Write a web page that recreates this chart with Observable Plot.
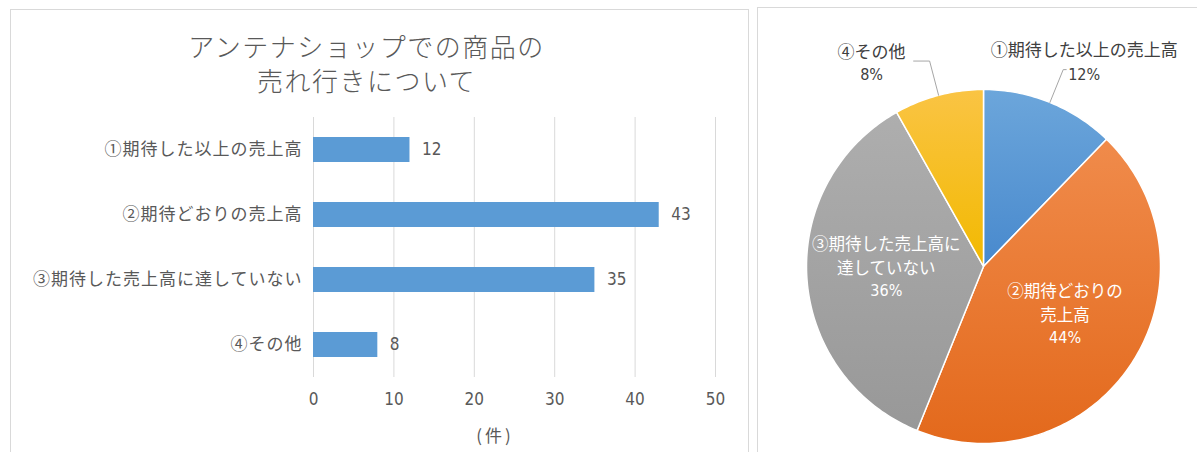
<!DOCTYPE html>
<html><head><meta charset="utf-8">
<script src="https://cdn.jsdelivr.net/npm/d3@7"></script>
<script src="https://cdn.jsdelivr.net/npm/@observablehq/plot@0.6"></script>
<style>
html,body{margin:0;padding:0;background:#fff;}
body{width:1197px;height:452px;overflow:hidden;position:relative;font-family:"Noto Sans CJK JP",sans-serif;}
.panel{position:absolute;border:1px solid #d9d9d9;box-sizing:border-box;}
#left{left:10px;top:9px;width:739px;height:470px;}
#right{left:757px;top:7px;width:460px;height:470px;}
.tline{position:absolute;left:-3px;width:739px;text-align:center;font-size:26px;line-height:30px;height:30px;color:#595959;font-weight:300;letter-spacing:1.5px;}
#bar{position:absolute;left:0;top:0;}
#pie{position:absolute;left:750px;top:0;}
#xlabel{position:absolute;left:445px;width:100px;top:422px;text-align:center;font-size:17px;color:#595959;letter-spacing:3px;}
g[aria-label="cjk"] text, g[aria-label="y-axis tick label"] text{letter-spacing:1px;}
</style></head><body>
<div class="panel" id="left"></div>
<div class="panel" id="right"></div>
<div id="titlebox"></div>
<div id="bar"></div>
<div id="pie"></div>
<div id="xlabel"></div>
<script>
const titleLines = ["アンテナショップでの商品の", "売れ行きについて"];
const categories = ["①期待した以上の売上高", "②期待どおりの売上高", "③期待した売上高に達していない", "④その他"];
const counts = [12, 43, 35, 8];
const xTicks = [0, 10, 20, 30, 40, 50];
const axisLabel = "(件)";
const pieLabels = ["①期待した以上の売上高", "②期待どおりの\n売上高", "③期待した売上高に\n達していない", "④その他"];
const sliceTop = ["#6CA6DB", "#F08B4B", "#AEAEAE", "#FAC444"];
const sliceBottom = ["#4889CD", "#E3691C", "#989898", "#F2B900"];

const titleBox = document.getElementById("titlebox");
titleLines.forEach((t, i) => {
  const d = document.createElement("div");
  d.className = "tline";
  d.style.top = (31 + i * 34) + "px";
  d.textContent = t;
  titleBox.append(d);
});
document.getElementById("xlabel").textContent = axisLabel;

const numFont = "'Liberation Sans Narrow','DejaVu Sans Condensed',sans-serif";
const cjkFont = "'Noto Sans CJK JP',sans-serif";

// ---- bar chart ----
const barData = categories.map((c, i) => ({category: c, count: counts[i]}));
const bar = Plot.plot({
  width: 750, height: 452,
  marginLeft: 313, marginRight: 35, marginTop: 117, marginBottom: 75,
  style: {background: "transparent", fontFamily: cjkFont, color: "#595959"},
  x: {domain: [0, 50], ticks: xTicks},
  y: {domain: categories, paddingInner: 0.62, paddingOuter: 0.31},
  marks: [
    Plot.gridX(xTicks, {stroke: "#d9d9d9", strokeOpacity: 1, strokeWidth: 1}),
    Plot.barX(barData, {x: "count", y: "category", fill: "#5B9BD5"}),
    Plot.text(barData, {x: "count", y: "category", text: d => String(d.count), textAnchor: "start", dx: 12, fontFamily: numFont, fontSize: 17, fill: "#595959"}),
    Plot.axisY({tickSize: 0, tickPadding: 11, fontSize: 17, label: null, fill: "#595959"}),
    Plot.axisX(xTicks, {tickSize: 0, tickPadding: 15, fontSize: 17, fontFamily: numFont, label: null, fill: "#595959"})
  ]
});
document.getElementById("bar").append(bar);

// ---- pie chart ----
const total = d3.sum(counts);
const arcs = d3.pie().sort(null).value(d => d)(counts);
const slicePts = arcs.flatMap((a, i) => {
  const n = Math.max(2, Math.ceil((a.endAngle - a.startAngle) / (Math.PI / 180)));
  const pts = [{key: categories[i], x: 0, y: 0}];
  for (let k = 0; k <= n; k++) {
    const t = a.startAngle + (a.endAngle - a.startAngle) * k / n;
    pts.push({key: categories[i], x: Math.sin(t), y: Math.cos(t)});
  }
  return pts;
});
const R = 177; // pixel radius
const info = arcs.map((a, i) => {
  const mid = (a.startAngle + a.endAngle) / 2;
  const share = a.value / total;
  return {name: pieLabels[i], pct: Math.round(share * 100) + "%", mid, share, outside: share < 0.15};
});
const inside = info.filter(d => !d.outside).map(d => ({...d, x: 0.55 * Math.sin(d.mid), y: 0.55 * Math.cos(d.mid)}));
const outside = info.filter(d => d.outside).map(d => {
  const side = Math.sin(d.mid) >= 0 ? 1 : -1;
  const ex = 1.2 * Math.sin(d.mid), ey = 1.2 * Math.cos(d.mid);
  const right = side > 0;
  return {...d, side, ex, ey, ax: Math.sin(d.mid), ay: Math.cos(d.mid),
    tx: ex + side * (right ? 21 : 58) / R,
    sx: ex + side * (right ? 3 : 16) / R,
    nameY: ey + (right ? 19 : 8) / R,
    pctY: ey - (right ? 5 : 14) / R};
});
const leaders = outside.flatMap(d => [
  {k: d.name, x: d.ax, y: d.ay},
  {k: d.name, x: d.ex, y: d.ey},
  {k: d.name, x: d.sx, y: d.ey}
]);

const pie = Plot.plot({
  width: 447, height: 452, margin: 0,
  style: {background: "transparent", fontFamily: cjkFont},
  x: {domain: [-1, 1], range: [233 - R, 233 + R], axis: null},
  y: {domain: [-1, 1], range: [266 + R, 266 - R], axis: null},
  color: {domain: categories, range: categories.map((c, i) => `url(#slice${i})`)},
  marks: [
    Plot.line(slicePts, {x: "x", y: "y", z: "key", fill: "key", stroke: "white", strokeWidth: 1.5, curve: "linear-closed"}),
    Plot.line(leaders, {x: "x", y: "y", z: "k", stroke: "#A6A6A6", strokeWidth: 1}),
    Plot.text(inside, {x: "x", y: "y", text: "name", lineAnchor: "bottom", dy: 1, lineHeight: 1.42, fontSize: 16.5, fill: "white", ariaLabel: "cjk"}),
    Plot.text(inside, {x: "x", y: "y", text: "pct", lineAnchor: "top", dy: 12, fontSize: 16, fontFamily: numFont, fill: "white"}),
    Plot.text(outside, {x: "tx", y: "nameY", text: "name", lineAnchor: "middle", fontSize: 17, fill: "#404040", ariaLabel: "cjk"}),
    Plot.text(outside, {x: "tx", y: "pctY", text: "pct", lineAnchor: "middle", fontSize: 16, fontFamily: numFont, fill: "#404040"})
  ]
});
const defs = d3.select(pie).insert("defs", ":first-child");
categories.forEach((c, i) => {
  const g = defs.append("linearGradient").attr("id", `slice${i}`).attr("x1", 0).attr("y1", 0).attr("x2", 0).attr("y2", 1);
  g.append("stop").attr("offset", "0%").attr("stop-color", sliceTop[i]);
  g.append("stop").attr("offset", "100%").attr("stop-color", sliceBottom[i]);
});
document.getElementById("pie").append(pie);
</script>
</body></html>
